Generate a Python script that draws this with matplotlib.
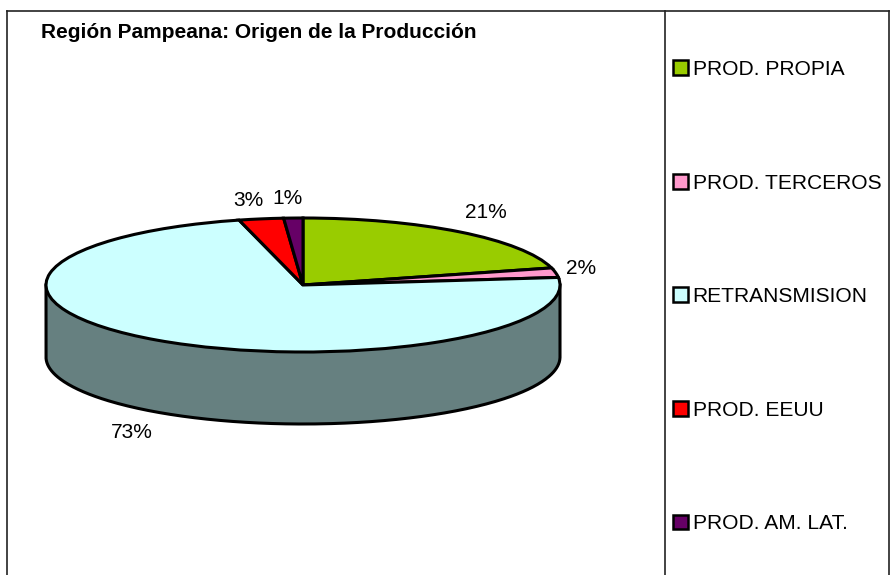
import numpy as np
import matplotlib
matplotlib.use("Agg")
import matplotlib.pyplot as plt

plt.rcParams['font.family'] = ['Liberation Sans', 'DejaVu Sans']

categories = ['PROD. PROPIA', 'PROD. TERCEROS', 'RETRANSMISION', 'PROD. EEUU', 'PROD. AM. LAT.']
values = [20.9, 2.3, 72.8, 2.8, 1.2]
colors = ['#99CC00', '#FF99CC', '#CCFFFF', '#FF0000', '#660066']
wall_color = '#668080'

W, H = 890, 575
cx, cy = 303, 285   # pie centre in pixels
rx, ry = 257, 67    # ellipse radii
depth = 72

fig = plt.figure(figsize=(W / 100, H / 100), dpi=100)
ax = fig.add_axes([0, 0, 1, 1])

wedges, _ = ax.pie(values, colors=colors, startangle=90, counterclock=False,
                   wedgeprops=dict(edgecolor='black', linewidth=2.2, zorder=3))

# ellipse comes from unequal units, radius 1 = rx wide and ry tall
ax.set_aspect('auto')
ax.set_xlim(-cx / rx, (W - cx) / rx)
ax.set_ylim(-(H - cy) / ry, cy / ry)
ax.set_axis_off()

# side wall of the "3D" pie
t = np.linspace(np.pi, 2 * np.pi, 300)
d = depth / ry
ax.fill_between(np.cos(t), np.sin(t), np.sin(t) - d, color=wall_color, zorder=1, lw=0)
wall_x = np.r_[-1, np.cos(t), 1]
wall_y = np.r_[0, np.sin(t) - d, 0]
ax.plot(wall_x, wall_y, color='black', lw=2.2, zorder=2, solid_joinstyle='round')


def px(x, y):
    return (x - cx) / rx, (cy - y) / ry


# percent labels
label_pos = [(486, 213), (581, 269), (132, 433), (248, 201), (288, 199)]
for v, (lx, ly) in zip(values, label_pos):
    ax.text(*px(lx, ly), f"{round(v)}%", fontsize=15, ha='center', va='center', color='black')

ax.text(*px(41, 32), 'Región Pampeana: Origen de la Producción', fontsize=15, fontweight='bold',
        ha='left', va='center', color='black')

# outer frame and legend divider, bottom runs off the picture
for xs, ys in [((7, 7), (11, 575)), ((7, 889), (11, 11)), ((889, 889), (11, 575)), ((665, 665), (11, 575))]:
    ax.plot(*px(np.array(xs), np.array(ys)), color='#222222', lw=1.2, zorder=5, clip_on=False)

leg = ax.legend(wedges, categories, loc='upper left', bbox_to_anchor=(673 / W, 1 - 60 / H),
                bbox_transform=fig.transFigure, frameon=False, fontsize=15.1,
                labelspacing=4.51, handlelength=0.7, handleheight=0.7, handletextpad=0.24,
                borderpad=0, borderaxespad=0)
for h in leg.get_patches():
    h.set_edgecolor('black')
    h.set_linewidth(1.8)

fig.savefig('out.png', dpi=100)
